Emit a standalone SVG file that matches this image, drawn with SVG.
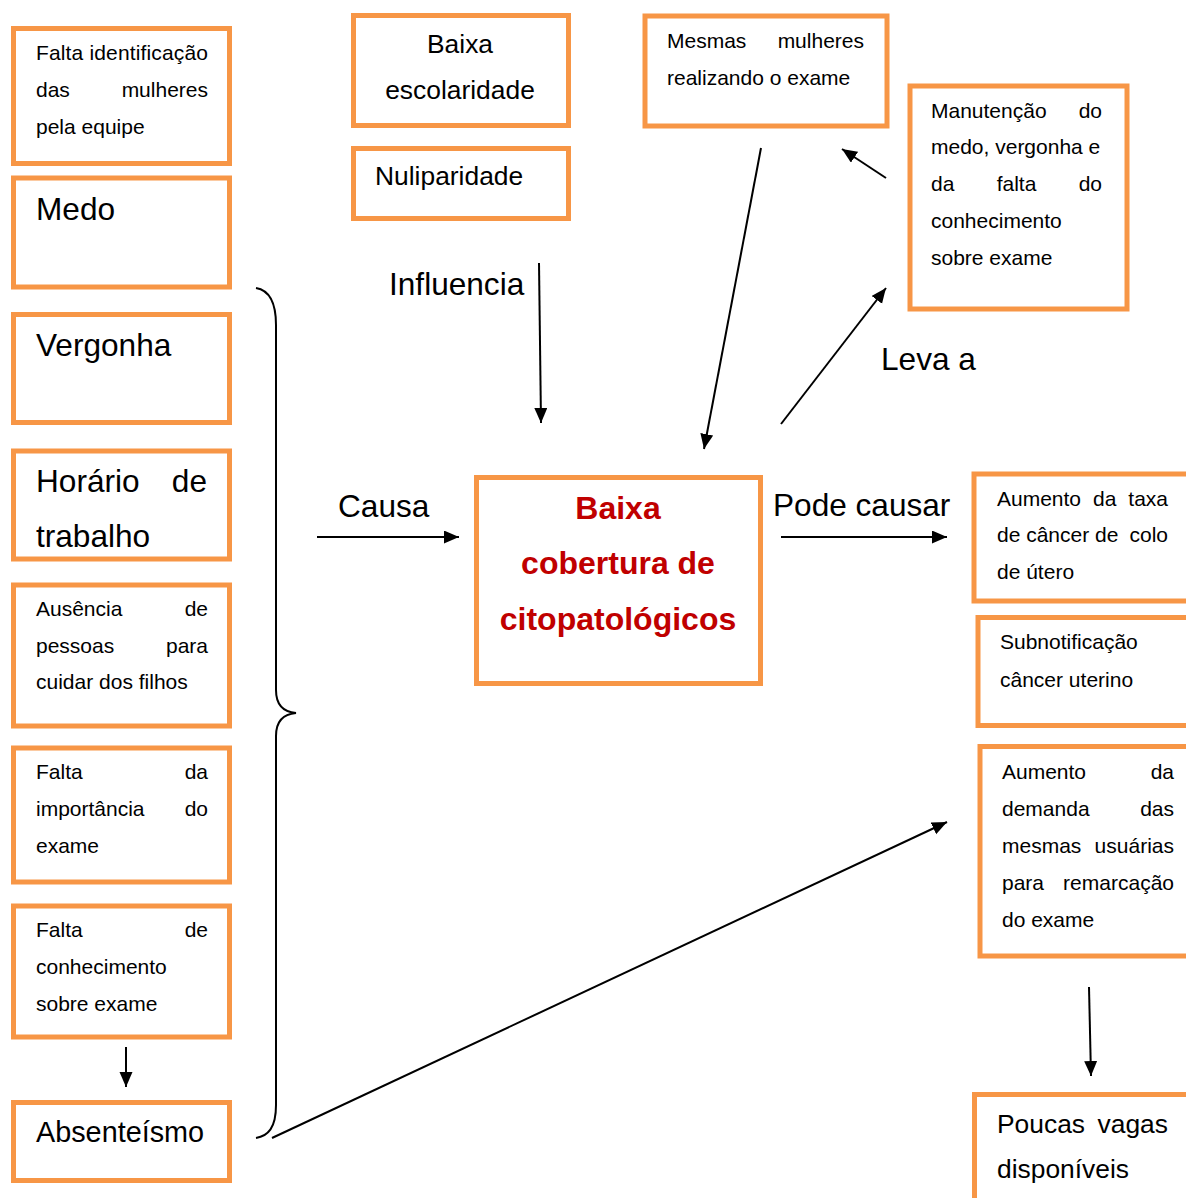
<svg xmlns="http://www.w3.org/2000/svg" width="1186" height="1198" viewBox="0 0 1186 1198">
<style>
.box{fill:#fff;stroke:#F79646;stroke-width:5}
text{font-family:"Liberation Sans",Arial,sans-serif;fill:#000}
.s{font-size:21px}
.m{font-size:26.4px}
.l{font-size:31.6px}
.a{font-size:28.8px}
.c{font-size:32px;font-weight:bold;fill:#C00000;text-anchor:middle}
.e{text-anchor:end}
.mid{text-anchor:middle}
.conn{fill:none;stroke:#000;stroke-width:2}
</style>
<defs>
<marker id="ah" markerUnits="userSpaceOnUse" markerWidth="17" markerHeight="14" refX="15" refY="6.5" orient="auto">
<path d="M0,0 L15,6.5 L0,13 z" fill="#000"/>
</marker>
</defs>
<rect width="1186" height="1198" fill="#fff"/>

<g id="n-falta-identificacao">
<rect class="box" x="13.5" y="28.5" width="216" height="135"/>
<text class="s" x="36" y="60" textLength="172" lengthAdjust="spacing">Falta identificação</text>
<text class="s" x="36" y="97">das</text><text class="s e" x="208" y="97">mulheres</text>
<text class="s" x="36" y="134">pela equipe</text>
</g>
<g id="n-medo">
<rect class="box" x="13.5" y="178" width="216" height="109"/>
<text class="l" x="36" y="220">Medo</text>
</g>
<g id="n-vergonha">
<rect class="box" x="13.5" y="314.5" width="216" height="108"/>
<text class="l" x="36" y="356">Vergonha</text>
</g>
<g id="n-horario">
<rect class="box" x="13.5" y="451" width="216" height="108"/>
<text class="l" x="36" y="492">Horário</text><text class="l e" x="207" y="492">de</text>
<text class="l" x="36" y="547">trabalho</text>
</g>
<g id="n-ausencia">
<rect class="box" x="13.5" y="585" width="216" height="141"/>
<text class="s" x="36" y="616">Ausência</text><text class="s e" x="208" y="616">de</text>
<text class="s" x="36" y="653">pessoas</text><text class="s e" x="208" y="653">para</text>
<text class="s" x="36" y="689">cuidar dos filhos</text>
</g>
<g id="n-importancia">
<rect class="box" x="13.5" y="748" width="216" height="134"/>
<text class="s" x="36" y="779">Falta</text><text class="s e" x="208" y="779">da</text>
<text class="s" x="36" y="816">importância</text><text class="s e" x="208" y="816">do</text>
<text class="s" x="36" y="853">exame</text>
</g>
<g id="n-conhecimento">
<rect class="box" x="13.5" y="906" width="216" height="131"/>
<text class="s" x="36" y="937">Falta</text><text class="s e" x="208" y="937">de</text>
<text class="s" x="36" y="974">conhecimento</text>
<text class="s" x="36" y="1011">sobre exame</text>
</g>
<g id="n-absenteismo">
<rect class="box" x="13.5" y="1102.5" width="216" height="78"/>
<text class="a" x="36" y="1142">Absenteísmo</text>
</g>

<g id="n-escolaridade">
<rect class="box" x="353.5" y="15.5" width="215" height="110"/>
<text class="m mid" x="460" y="53">Baixa</text>
<text class="m mid" x="460" y="99">escolaridade</text>
</g>
<g id="n-nuliparidade">
<rect class="box" x="353.5" y="148.5" width="215" height="70"/>
<text class="m" x="375" y="185">Nuliparidade</text>
</g>
<g id="n-mesmas">
<rect class="box" x="645" y="16" width="242" height="110"/>
<text class="s" x="667" y="48">Mesmas</text><text class="s e" x="864" y="48">mulheres</text>
<text class="s" x="667" y="85">realizando o exame</text>
</g>
<g id="n-manutencao">
<rect class="box" x="910" y="86" width="217" height="223"/>
<text class="s" x="931" y="118">Manutenção</text><text class="s e" x="1102" y="118">do</text>
<text class="s" x="931" y="154">medo, vergonha e</text>
<text class="s" x="931" y="191">da</text><text class="s mid" x="1016.5" y="191">falta</text><text class="s e" x="1102" y="191">do</text>
<text class="s" x="931" y="228">conhecimento</text>
<text class="s" x="931" y="265">sobre exame</text>
</g>
<g id="n-central">
<rect class="box" x="476.5" y="477.5" width="284" height="206"/>
<text class="c" x="618" y="519">Baixa</text>
<text class="c" x="618" y="574">cobertura de</text>
<text class="c" x="618" y="630">citopatológicos</text>
</g>
<g id="n-taxa">
<rect class="box" x="974" y="474" width="230" height="127"/>
<text class="s" x="997" y="506">Aumento</text><text class="s mid" x="1104.7" y="506">da</text><text class="s e" x="1168" y="506">taxa</text>
<text class="s" x="997" y="542">de câncer de</text><text class="s e" x="1168" y="542">colo</text>
<text class="s" x="997" y="579">de útero</text>
</g>
<g id="n-subnotificacao">
<rect class="box" x="978" y="617.5" width="230" height="108"/>
<text class="s" x="1000" y="649">Subnotificação</text>
<text class="s" x="1000" y="687">câncer  uterino</text>
</g>
<g id="n-demanda">
<rect class="box" x="980" y="746.5" width="230" height="209.5"/>
<text class="s" x="1002" y="779">Aumento</text><text class="s e" x="1174" y="779">da</text>
<text class="s" x="1002" y="816">demanda</text><text class="s e" x="1174" y="816">das</text>
<text class="s" x="1002" y="853">mesmas</text><text class="s e" x="1174" y="853">usuárias</text>
<text class="s" x="1002" y="890">para</text><text class="s e" x="1174" y="890">remarcação</text>
<text class="s" x="1002" y="927">do exame</text>
</g>
<g id="n-vagas">
<rect class="box" x="974.5" y="1094.5" width="230" height="120"/>
<text class="m" x="997" y="1133">Poucas</text><text class="m e" x="1168" y="1133">vagas</text>
<text class="m" x="997" y="1178">disponíveis</text>
</g>

<g id="labels">
<text class="l" x="389" y="295">Influencia</text>
<text class="l" x="338" y="517">Causa</text>
<text class="l" x="773" y="516">Pode causar</text>
<text class="l" x="881" y="370">Leva a</text>
</g>

<g id="connectors">
<path class="conn" d="M256,288 C268,290 276,300 276,325 L276,690 C276,705 284,712 296,713 C284,714 276,721 276,736 L276,1105 C276,1128 268,1136 256,1138"/>
<line class="conn" x1="539" y1="263" x2="541" y2="423" marker-end="url(#ah)"/>
<line class="conn" x1="761" y1="148" x2="704" y2="449" marker-end="url(#ah)"/>
<line class="conn" x1="886" y1="178" x2="842" y2="149" marker-end="url(#ah)"/>
<line class="conn" x1="781" y1="424" x2="886" y2="288" marker-end="url(#ah)"/>
<line class="conn" x1="317" y1="537" x2="459" y2="537" marker-end="url(#ah)"/>
<line class="conn" x1="781" y1="537" x2="947" y2="537" marker-end="url(#ah)"/>
<line class="conn" x1="272" y1="1138" x2="947" y2="822" marker-end="url(#ah)"/>
<line class="conn" x1="126" y1="1047" x2="126" y2="1087" marker-end="url(#ah)"/>
<line class="conn" x1="1089" y1="987" x2="1091" y2="1076" marker-end="url(#ah)"/>
</g>
</svg>
